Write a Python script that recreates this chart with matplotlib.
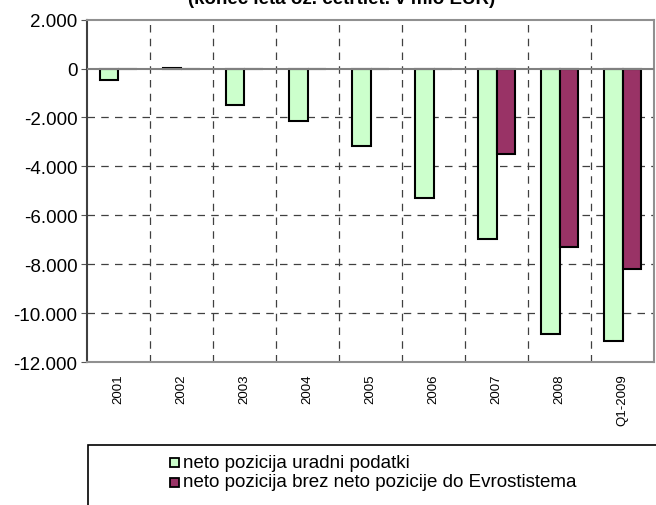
import numpy as np
import matplotlib.pyplot as plt
from matplotlib.patches import Rectangle
from matplotlib.ticker import FuncFormatter

plt.rcParams['font.family'] = ['Liberation Sans', 'DejaVu Sans']

# data (mio EUR)
categories = ["2001", "2002", "2003", "2004", "2005", "2006", "2007", "2008", "Q1-2009"]
uradni = [-460, 40, -1500, -2130, -3170, -5290, -6960, -10850, -11150]
brez_evro = [0, 0, 0, 0, 0, 0, -3480, -7290, -8180]
series_names = ["neto pozicija uradni podatki",
                "neto pozicija brez neto pozicije do Evrostistema"]

green = "#ccffcc"
maroon = "#993366"

fig = plt.figure(figsize=(6.56, 5.06), dpi=100)
ax = fig.add_axes([0.1326, 0.2826, 0.8644, 0.6765])

x = np.arange(len(categories))
w = 0.3
ax.bar(x - w / 2, uradni, width=w, color=green, edgecolor="black", linewidth=1.5, zorder=3)
ax.bar(x + w / 2, brez_evro, width=w, color=maroon, edgecolor="black", linewidth=1.5, zorder=3)

ax.set_xlim(-0.5, len(categories) - 0.5)
ax.set_ylim(-12000, 2000)
ax.set_yticks(np.arange(-12000, 2001, 2000))
ax.yaxis.set_major_formatter(FuncFormatter(lambda v, p: f"{int(v):,}".replace(",", ".")))
ax.tick_params(axis="y", labelsize=13.5, length=4, color="#555555", pad=3)

# horizontal dashed grid + solid zero line
for yv in range(-10000, 1, 2000):
    if yv == 0:
        ax.axhline(0, color="#808080", lw=1.5, zorder=4)
    else:
        ax.axhline(yv, color="#404040", lw=0.9, dashes=(6, 5), zorder=1)
# vertical dashed grid at category boundaries
for xv in np.arange(0.5, len(categories) - 0.5, 1):
    ax.axvline(xv, color="#404040", lw=0.9, dashes=(6, 5), zorder=1)

ax.set_xticks(x)
ax.set_xticklabels(categories, rotation=90, fontsize=9.5)
ax.tick_params(axis="x", length=0, pad=8)

ax.spines["left"].set_color("#404040")
ax.spines["left"].set_linewidth(1.5)
for s in ["top", "right", "bottom"]:
    ax.spines[s].set_color("#909090")
    ax.spines[s].set_linewidth(1.5)

# title, cut by the top edge as in the original
fig.text(0.52, 1 - 4 / 506, "(konec leta oz. četrtlet. v mio EUR)",
         ha="center", va="baseline", fontsize=13.5, fontweight="bold")

# legend box (cut by the bottom of the image)
box = Rectangle((88 / 656, -0.05), 1.0, (506 - 446) / 506 + 0.05,
                transform=fig.transFigure, fill=False, edgecolor="black", lw=1.2)
fig.add_artist(box)
for i, (name, col) in enumerate(zip(series_names, [green, maroon])):
    yc = 1 - (463 + 20 * i) / 506
    sq = Rectangle((170 / 656, yc - 4.5 / 506), 9 / 656, 9 / 506,
                   transform=fig.transFigure, facecolor=col, edgecolor="black", lw=1.3)
    fig.add_artist(sq)
    fig.text(183 / 656, yc, name, ha="left", va="center", fontsize=13.5)

fig.savefig("out.png", dpi=100)
